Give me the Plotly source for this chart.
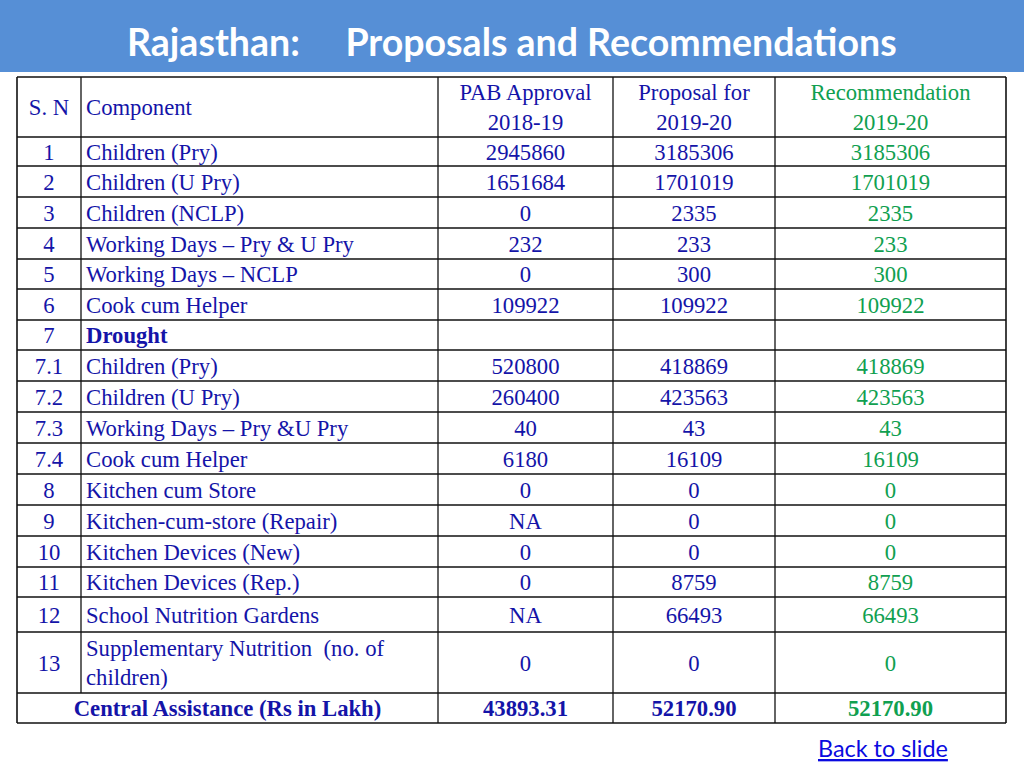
import plotly.graph_objects as go

# ---- data ----
title = "Rajasthan:\u00a0\u00a0\u00a0\u00a0\u00a0Proposals and Recommendations"
col_headers = ["S. N", "Component", "PAB Approval<br>2018-19", "Proposal for<br>2019-20", "Recommendation<br>2019-20"]
sn = ["1", "2", "3", "4", "5", "6", "7", "7.1", "7.2", "7.3", "7.4", "8", "9", "10", "11", "12", "13"]
component = ["Children (Pry)", "Children (U Pry)", "Children (NCLP)", "Working Days – Pry & U Pry",
             "Working Days – NCLP", "Cook cum Helper", "<b>Drought</b>", "Children (Pry)", "Children (U Pry)",
             "Working Days – Pry &U Pry", "Cook cum Helper", "Kitchen cum Store", "Kitchen-cum-store (Repair)",
             "Kitchen Devices (New)", "Kitchen Devices (Rep.)", "School Nutrition Gardens",
             "Supplementary Nutrition\u00a0\u00a0(no. of<br>children)"]
pab_2018 = ["2945860", "1651684", "0", "232", "0", "109922", "", "520800", "260400", "40", "6180",
            "0", "NA", "0", "0", "NA", "0"]
proposal_2019 = ["3185306", "1701019", "2335", "233", "300", "109922", "", "418869", "423563", "43", "16109",
                 "0", "0", "0", "8759", "66493", "0"]
recommendation_2019 = ["3185306", "1701019", "2335", "233", "300", "109922", "", "418869", "423563", "43", "16109",
                       "0", "0", "0", "8759", "66493", "0"]
total_label = "Central Assistance (Rs in Lakh)"
totals = ["43893.31", "52170.90", "52170.90"]
link_text = "Back to slide"

# ---- layout geometry (pixels) ----
col_edges = [17, 81, 438, 613, 775, 1006]
table_top = 77
row_heights = [60, 29, 31, 31, 31, 30, 31, 30, 31, 31, 31, 31, 31, 31, 31, 30, 35, 61, 30]
row_edges = [table_top]
for h in row_heights:
    row_edges.append(row_edges[-1] + h)
TXT_DY = 2.5
row_mid = [(row_edges[i] + row_edges[i + 1]) / 2 + TXT_DY for i in range(len(row_heights))]
col_mid = [(col_edges[i] + col_edges[i + 1]) / 2 for i in range(len(col_edges) - 1)]

BLUE_TXT = "#1414a8"
GREEN_TXT = "#10a050"
FONT = "Liberation Serif"
FS = 22.7

fig = go.Figure()

# header bar
fig.add_shape(type="rect", x0=0, x1=1024, y0=0, y1=72, fillcolor="#568fd6", line_width=0, layer="below")

# grid lines
n_rows = len(row_heights)
for i, y in enumerate(row_edges):
    fig.add_shape(type="line", x0=col_edges[0], x1=col_edges[-1], y0=y, y1=y,
                  line=dict(color="#111111", width=1.6 if i in (0, n_rows) else 1.3))
for j, x in enumerate(col_edges):
    y_end = row_edges[-1] if j != 1 else row_edges[-2]
    fig.add_shape(type="line", x0=x, x1=x, y0=row_edges[0], y1=y_end,
                  line=dict(color="#111111", width=1.6 if j in (0, len(col_edges) - 1) else 1.3))

data_rows_mid = row_mid[1:1 + len(sn)]
colors_hdr = [BLUE_TXT, BLUE_TXT, BLUE_TXT, BLUE_TXT, GREEN_TXT]

# header text
fig.add_trace(go.Scatter(x=[col_mid[0]], y=[row_mid[0]], text=[col_headers[0]], mode="text",
                         textposition="middle center", textfont=dict(family=FONT, size=FS, color=BLUE_TXT)))
fig.add_trace(go.Scatter(x=[col_edges[1] + 5], y=[row_mid[0]], text=[col_headers[1]], mode="text",
                         textposition="middle right", textfont=dict(family=FONT, size=FS, color=BLUE_TXT)))
fig.add_trace(go.Scatter(x=col_mid[2:], y=[row_mid[0]] * 3, text=col_headers[2:], mode="text",
                         textposition="middle center",
                         textfont=dict(family=FONT, size=FS, color=colors_hdr[2:])))

# body
fig.add_trace(go.Scatter(x=[col_mid[0]] * len(sn), y=data_rows_mid, text=sn, mode="text",
                         textposition="middle center", textfont=dict(family=FONT, size=FS, color=BLUE_TXT)))
fig.add_trace(go.Scatter(x=[col_edges[1] + 5] * len(component), y=data_rows_mid, text=component, mode="text",
                         textposition="middle right", textfont=dict(family=FONT, size=FS, color=BLUE_TXT)))
for k, (vals, c) in enumerate([(pab_2018, BLUE_TXT), (proposal_2019, BLUE_TXT), (recommendation_2019, GREEN_TXT)]):
    fig.add_trace(go.Scatter(x=[col_mid[2 + k]] * len(vals), y=data_rows_mid, text=vals, mode="text",
                             textposition="middle center", textfont=dict(family=FONT, size=FS, color=c)))

# totals row
fig.add_trace(go.Scatter(x=[(col_edges[0] + col_edges[2]) / 2], y=[row_mid[-1]], text=["<b>" + total_label + "</b>"],
                         mode="text", textposition="middle center",
                         textfont=dict(family=FONT, size=FS, color=BLUE_TXT)))
fig.add_trace(go.Scatter(x=col_mid[2:], y=[row_mid[-1]] * 3, text=["<b>" + t + "</b>" for t in totals],
                         mode="text", textposition="middle center",
                         textfont=dict(family=FONT, size=FS, color=[BLUE_TXT, BLUE_TXT, GREEN_TXT])))

# title and link
fig.add_annotation(x=512, y=41, text="<b>" + title + "</b>", showarrow=False, xanchor="center", yanchor="middle",
                   font=dict(family="Lato", size=37.5, color="white"))
fig.add_annotation(x=883, y=748, text="<u>" + link_text + "</u>", showarrow=False, xanchor="center",
                   yanchor="middle", font=dict(family="Lato", size=23.4, color="#0a0ae0"))

fig.update_layout(width=1024, height=768, autosize=False, margin=dict(l=0, r=0, t=0, b=0),
                  plot_bgcolor="white", paper_bgcolor="white", showlegend=False,
                  xaxis=dict(range=[0, 1024], visible=False, fixedrange=True),
                  yaxis=dict(range=[768, 0], visible=False, fixedrange=True))

fig.write_html("out.html", config={"displayModeBar": False},
               post_script="document.body.style.margin='0';document.body.style.overflow='hidden';")
